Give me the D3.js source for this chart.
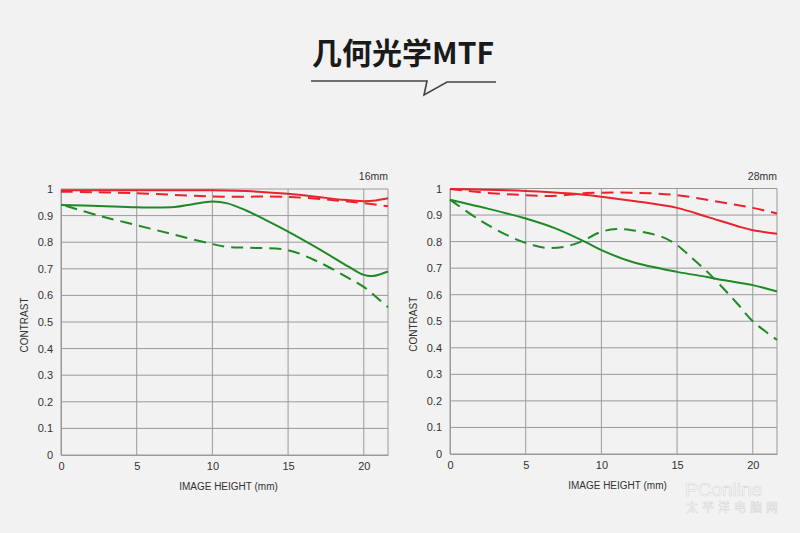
<!DOCTYPE html>
<html><head><meta charset="utf-8">
<script src="https://cdn.jsdelivr.net/npm/d3@7"></script>
<style>body{margin:0;background:#f2f2f2;}svg{display:block;}</style>
</head><body>
<svg id="c" width="800" height="533"></svg>
<script>
const yTicks = [0,0.1,0.2,0.3,0.4,0.5,0.6,0.7,0.8,0.9,1];
const xTicks = [0,5,10,15,20];
const yTickLabels = ["0","0.1","0.2","0.3","0.4","0.5","0.6","0.7","0.8","0.9","1"];
const xMax = 21.6;

// 16mm
const w16_redSolid_x = [0,5,10,13,15,17,18.5,20,20.8,21.6];
const w16_redSolid_y = [0.995,0.995,0.995,0.99,0.982,0.97,0.96,0.954,0.957,0.965];
const w16_redDash_x = [0,5,10,15,18,20,21.6];
const w16_redDash_y = [0.99,0.984,0.972,0.97,0.958,0.947,0.935];
const w16_greenSolid_x = [0,2.5,5,7.5,8.7,10,11,12.2,13.5,15,17,19,20,20.6,21.6];
const w16_greenSolid_y = [0.94,0.936,0.931,0.932,0.943,0.953,0.946,0.92,0.884,0.84,0.776,0.708,0.677,0.673,0.69];
const w16_greenDash_x = [0.3,2.5,5,7.5,10,11,12.5,15,17,19,20,21,21.6];
const w16_greenDash_y = [0.937,0.9,0.864,0.828,0.793,0.782,0.779,0.77,0.726,0.665,0.632,0.585,0.555];

// 28mm
const w28_redSolid_x = [0,5,8,10,12,15,17,19,20,21.6];
const w28_redSolid_y = [0.998,0.991,0.981,0.969,0.954,0.927,0.893,0.858,0.843,0.83];
const w28_redDash_x = [0,3,5,6.5,8,9,10,12,15,18,20,21.6];
const w28_redDash_y = [0.998,0.981,0.975,0.972,0.977,0.983,0.984,0.984,0.975,0.947,0.927,0.906];
const w28_greenSolid_x = [0,2,5,7,9,10,12,15,17,18,20,21.6];
const w28_greenSolid_y = [0.958,0.931,0.887,0.849,0.797,0.768,0.724,0.686,0.667,0.655,0.636,0.612];
const w28_greenDash_x = [0,2,4,5.5,6.5,7.5,8.5,10,11,12,14,15,16,17,18,19,20,21.6];
const w28_greenDash_y = [0.958,0.88,0.818,0.786,0.776,0.78,0.796,0.837,0.847,0.843,0.818,0.787,0.737,0.686,0.627,0.565,0.5,0.43];

const RED = "#e8232b", GREEN = "#1d8a25", GRID = "#9a9a9a", TXT = "#333";
const FONT = "'Liberation Sans', Arial, sans-serif";

const svg = d3.select("#c");
svg.append("rect").attr("width",800).attr("height",533).attr("fill","#f2f2f2");

// Title
svg.append("text").attr("x",403).attr("y",51).attr("text-anchor","middle")
  .attr("dominant-baseline","central")
  .attr("font-family","'Noto Sans CJK SC', sans-serif").attr("font-weight","bold")
  .attr("font-size",30).attr("fill","#1a1a1a").text("几何光学MTF");
svg.append("path").attr("d","M311,81 L427,81 L424,95 L447,82 L496,82")
  .attr("fill","none").attr("stroke","#444").attr("stroke-width",1.6);

function chart(left, top, right, bottom, label, series) {
  const x = d3.scaleLinear().domain([0,xMax]).range([left,right]);
  const y = d3.scaleLinear().domain([0,1]).range([bottom,top]);
  const g = svg.append("g");
  g.selectAll(".hy").data(yTicks).join("line")
    .attr("x1",left).attr("x2",right).attr("y1",d=>y(d)).attr("y2",d=>y(d))
    .attr("stroke",GRID).attr("stroke-width",1);
  g.selectAll(".vx").data(xTicks).join("line")
    .attr("x1",d=>x(d)).attr("x2",d=>x(d)).attr("y1",top).attr("y2",bottom)
    .attr("stroke",GRID).attr("stroke-width",1);
  g.append("line").attr("x1",right).attr("x2",right).attr("y1",top).attr("y2",bottom)
    .attr("stroke",GRID).attr("stroke-width",1);
  const ya = d3.axisLeft(y).tickValues(yTicks).tickFormat((d,i)=>yTickLabels[i]).tickSize(0).tickPadding(8);
  const ga = g.append("g").attr("transform",`translate(${left},0)`).call(ya);
  ga.select(".domain").attr("stroke",GRID);
  ga.selectAll("text").attr("font-family",FONT).attr("font-size",11).attr("fill",TXT);
  const xa = d3.axisBottom(x).tickValues(xTicks).tickSize(0).tickPadding(7);
  const gx = g.append("g").attr("transform",`translate(0,${bottom})`).call(xa);
  gx.select(".domain").attr("stroke",GRID);
  gx.selectAll("text").attr("font-family",FONT).attr("font-size",11).attr("fill",TXT);
  g.append("text").attr("x",(left+right)/2+4).attr("y",bottom+35).attr("text-anchor","middle")
    .attr("font-family",FONT).attr("font-size",10).attr("fill",TXT)
    .text("IMAGE HEIGHT (mm)");
  g.append("text").attr("transform",`translate(${left-37},${(top+bottom)/2+3}) rotate(-90)`)
    .attr("text-anchor","middle").attr("dominant-baseline","central")
    .attr("font-family",FONT).attr("font-size",10).attr("fill",TXT)
    .text("CONTRAST");
  g.append("text").attr("x",right).attr("y",top-9).attr("text-anchor","end")
    .attr("font-family",FONT).attr("font-size",10.5).attr("fill",TXT)
    .text(label);
  const line = d3.line().x(d=>x(d[0])).y(d=>y(d[1])).curve(d3.curveCatmullRom.alpha(0.5));
  series.forEach(s=>{
    const pts = s.xs.map((v,i)=>[v,s.ys[i]]);
    g.append("path").attr("d",line(pts)).attr("fill","none")
      .attr("stroke",s.color).attr("stroke-width",2)
      .attr("stroke-dasharray",s.dash?"12,7":null);
  });
}

chart(61,189,388,455,"16mm",[
  {xs:w16_greenDash_x,ys:w16_greenDash_y,color:GREEN,dash:true},
  {xs:w16_greenSolid_x,ys:w16_greenSolid_y,color:GREEN,dash:false},
  {xs:w16_redDash_x,ys:w16_redDash_y,color:RED,dash:true},
  {xs:w16_redSolid_x,ys:w16_redSolid_y,color:RED,dash:false}
]);
chart(450,188.5,777,454,"28mm",[
  {xs:w28_greenDash_x,ys:w28_greenDash_y,color:GREEN,dash:true},
  {xs:w28_greenSolid_x,ys:w28_greenSolid_y,color:GREEN,dash:false},
  {xs:w28_redDash_x,ys:w28_redDash_y,color:RED,dash:true},
  {xs:w28_redSolid_x,ys:w28_redSolid_y,color:RED,dash:false}
]);

// watermark
svg.append("text").attr("x",685).attr("y",496).attr("font-family",FONT)
  .attr("font-size",19).attr("fill","#fbfbfb").attr("stroke","#d6d6d6").attr("stroke-width",0.6).text("PConline");
svg.append("text").attr("x",686).attr("y",512).attr("font-family","'Noto Sans CJK SC', sans-serif")
  .attr("font-size",12).attr("fill","#fbfbfb").attr("stroke","#d6d6d6").attr("stroke-width",0.5)
  .attr("letter-spacing",4).text("太平洋电脑网");
</script>
</body></html>
